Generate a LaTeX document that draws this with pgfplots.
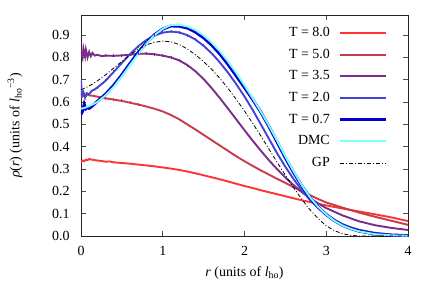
\documentclass[border=0pt]{standalone}
\usepackage{fontspec}
\setmainfont{Liberation Serif}
\usepackage{pgfplots}
\pgfplotsset{compat=1.18}
\definecolor{c8}{HTML}{FF3333}
\definecolor{c5}{HTML}{C63C4A}
\definecolor{c35}{HTML}{7B2D8B}
\definecolor{c2}{HTML}{4444D0}
\definecolor{c07}{HTML}{0000C8}
\definecolor{cdmc}{HTML}{80FFFF}
\begin{document}
\begin{tikzpicture}
\begin{axis}[
 scale only axis, width=327bp, height=221bp,
 at={(0,0)}, anchor=south west,
 xmin=0, xmax=4, ymin=0, ymax=0.99,
 xtick={0,1,2,3,4}, ytick={0,0.1,0.2,0.3,0.4,0.5,0.6,0.7,0.8,0.9},
 yticklabel style={/pgf/number format/fixed, /pgf/number format/fixed zerofill, /pgf/number format/precision=1, xshift=-8bp},
 xticklabel style={/pgf/number format/fixed, yshift=-7bp},
 /pgf/number format/assume math mode=true,
 tick align=inside, major tick length=5bp,
 axis line style={line width=1pt, black!85},
 tick style={line width=0.8pt, black!70},
 font=\fontsize{14}{16}\selectfont,
 xlabel={\textit{r} (units of \textit{l}\textsubscript{ho})},
 ylabel={\textit{ρ}(\textit{r}) (units of \textit{l}\textsubscript{ho}\textsuperscript{−3})},
 x label style={at={(axis description cs:0.5,0)}, yshift=-37bp, anchor=center},
 y label style={at={(axis description cs:0,0.5)}, rotate=0, yshift=66bp, anchor=center},
 legend plot pos=right,
 legend cell align=right,
 legend image code/.code={\draw[#1] (0bp,0bp) -- (46bp,0bp);},
 legend style={draw=none, fill=none, inner sep=0pt, at={(axis description cs:1,1)}, anchor=north east, xshift=-20bp, yshift=-11.3bp, row sep=8.67bp, /tikz/column sep=9bp, nodes={inner sep=0pt, text height=10bp, text depth=3bp}},
]
\addplot[c8, line width=1.9bp] coordinates {
(0.00,0.330)(0.02,0.338)(0.04,0.335)(0.06,0.342)(0.08,0.340)(0.10,0.345)(0.12,0.343)(0.15,0.341)(0.20,0.338)(0.25,0.336)(0.30,0.333)(0.35,0.334)(0.40,0.330)(0.50,0.327)(0.60,0.324)(0.70,0.320)(0.80,0.316)(0.90,0.312)(1.00,0.307)(1.10,0.302)(1.20,0.296)(1.30,0.289)(1.40,0.281)(1.50,0.272)(1.60,0.263)(1.70,0.254)(1.80,0.244)(1.90,0.234)(2.00,0.224)(2.10,0.215)(2.20,0.205)(2.30,0.196)(2.40,0.187)(2.50,0.178)(2.60,0.169)(2.70,0.160)(2.80,0.152)(2.90,0.144)(3.00,0.137)(3.20,0.123)(3.40,0.110)(3.60,0.097)(3.80,0.083)(4.00,0.067)};
\addlegendentry{T = 8.0}
\addplot[c5, line width=1.9bp] coordinates {
(0.00,0.640)(0.02,0.625)(0.04,0.632)(0.06,0.628)(0.08,0.634)(0.10,0.630)(0.15,0.628)(0.20,0.624)(0.30,0.617)(0.40,0.611)(0.50,0.605)(0.60,0.597)(0.70,0.589)(0.80,0.580)(0.90,0.570)(1.00,0.558)(1.10,0.542)(1.20,0.523)(1.30,0.500)(1.40,0.477)(1.50,0.453)(1.60,0.429)(1.70,0.405)(1.80,0.381)(1.90,0.357)(2.00,0.335)(2.10,0.314)(2.20,0.294)(2.30,0.275)(2.40,0.256)(2.50,0.238)(2.60,0.219)(2.70,0.200)(2.80,0.183)(2.90,0.166)(3.00,0.150)(3.20,0.127)(3.40,0.105)(3.60,0.086)(3.80,0.068)(4.00,0.050)};
\addlegendentry{T = 5.0}
\addplot[c35, line width=1.9bp] coordinates {
(0.00,0.830)(0.02,0.800)(0.03,0.840)(0.05,0.805)(0.06,0.835)(0.08,0.800)(0.10,0.825)(0.12,0.805)(0.14,0.820)(0.17,0.808)(0.20,0.812)(0.25,0.806)(0.30,0.808)(0.40,0.807)(0.50,0.809)(0.60,0.812)(0.70,0.816)(0.80,0.817)(0.90,0.814)(1.00,0.808)(1.10,0.800)(1.20,0.787)(1.30,0.766)(1.40,0.738)(1.50,0.703)(1.60,0.662)(1.70,0.617)(1.80,0.570)(1.90,0.522)(2.00,0.474)(2.10,0.427)(2.20,0.382)(2.30,0.339)(2.40,0.299)(2.50,0.262)(2.60,0.228)(2.70,0.197)(2.80,0.170)(2.90,0.146)(3.00,0.125)(3.20,0.092)(3.40,0.066)(3.60,0.048)(3.80,0.036)(4.00,0.027)};
\addlegendentry{T = 3.5}
\addplot[c2, line width=1.9bp] coordinates {
(0.00,0.700)(0.01,0.630)(0.03,0.645)(0.05,0.620)(0.07,0.640)(0.10,0.635)(0.13,0.650)(0.16,0.655)(0.20,0.665)(0.30,0.695)(0.40,0.735)(0.50,0.775)(0.60,0.815)(0.70,0.850)(0.80,0.878)(0.90,0.898)(1.00,0.911)(1.10,0.916)(1.20,0.912)(1.30,0.900)(1.40,0.880)(1.50,0.852)(1.60,0.818)(1.70,0.777)(1.80,0.731)(1.90,0.680)(2.00,0.625)(2.10,0.565)(2.20,0.500)(2.30,0.435)(2.40,0.370)(2.50,0.310)(2.60,0.255)(2.70,0.205)(2.80,0.162)(2.90,0.126)(3.00,0.096)(3.10,0.072)(3.20,0.053)(3.30,0.039)(3.40,0.028)(3.60,0.014)(3.80,0.007)(4.00,0.004)};
\addlegendentry{T = 2.0}
\addplot[c07, line width=3bp] coordinates {
(0.00,0.545)(0.02,0.560)(0.04,0.590)(0.06,0.570)(0.08,0.575)(0.10,0.572)(0.13,0.580)(0.16,0.590)(0.20,0.603)(0.30,0.635)(0.40,0.675)(0.50,0.722)(0.60,0.773)(0.70,0.822)(0.80,0.866)(0.90,0.902)(1.00,0.927)(1.10,0.941)(1.20,0.940)(1.30,0.932)(1.40,0.914)(1.50,0.888)(1.60,0.855)(1.70,0.815)(1.80,0.768)(1.90,0.717)(2.00,0.665)(2.10,0.612)(2.20,0.555)(2.30,0.490)(2.40,0.420)(2.50,0.350)(2.60,0.285)(2.70,0.225)(2.80,0.172)(2.90,0.130)(3.00,0.096)(3.10,0.069)(3.20,0.048)(3.30,0.033)(3.40,0.022)(3.60,0.009)(3.80,0.003)(4.00,0.001)};
\addlegendentry{T = 0.7}
\addplot[cdmc, line width=1.9bp] coordinates {
(0.00,0.570)(0.05,0.575)(0.10,0.582)(0.20,0.600)(0.30,0.630)(0.40,0.668)(0.50,0.715)(0.60,0.766)(0.70,0.815)(0.80,0.861)(0.90,0.900)(1.00,0.928)(1.10,0.945)(1.20,0.946)(1.30,0.939)(1.40,0.923)(1.50,0.898)(1.60,0.866)(1.70,0.827)(1.80,0.781)(1.90,0.730)(2.00,0.675)(2.10,0.617)(2.20,0.557)(2.30,0.494)(2.40,0.426)(2.50,0.356)(2.60,0.290)(2.70,0.228)(2.80,0.174)(2.90,0.131)(3.00,0.096)(3.10,0.068)(3.20,0.047)(3.30,0.032)(3.40,0.021)(3.60,0.008)(3.80,0.003)(4.00,0.001)};
\addlegendentry{DMC}
\addplot[black, line width=0.8bp, dash pattern=on 4bp off 2bp on 1bp off 2bp] coordinates {
(0.00,0.655)(0.10,0.672)(0.20,0.695)(0.30,0.722)(0.40,0.752)(0.50,0.782)(0.60,0.811)(0.70,0.836)(0.80,0.856)(0.90,0.868)(1.00,0.873)(1.10,0.870)(1.20,0.858)(1.30,0.838)(1.40,0.812)(1.50,0.781)(1.60,0.746)(1.70,0.706)(1.80,0.661)(1.90,0.612)(2.00,0.560)(2.10,0.505)(2.20,0.448)(2.30,0.389)(2.40,0.330)(2.50,0.272)(2.60,0.217)(2.70,0.165)(2.80,0.118)(2.90,0.078)(3.00,0.046)(3.10,0.024)(3.20,0.010)(3.30,0.003)(3.40,0.000)(4.00,0.000)};
\addlegendentry{GP}
% small error-bar ticks along the finite-temperature curves
\addplot[forget plot, c35, only marks, mark=|, mark size=1.5bp, mark options={line width=0.8bp}] coordinates {
(0.30,0.808)(0.40,0.807)(0.50,0.809)(0.60,0.812)(0.70,0.816)(0.80,0.817)(0.90,0.814)(1.00,0.808)(1.10,0.800)(1.20,0.787)(1.30,0.766)};
\addplot[forget plot, c2, only marks, mark=|, mark size=1.5bp, mark options={line width=0.8bp}] coordinates {
(0.20,0.665)(0.30,0.695)(0.40,0.735)(0.50,0.775)(0.60,0.815)(0.70,0.850)(0.80,0.878)(0.90,0.898)(1.00,0.911)(1.10,0.916)(1.20,0.912)(1.30,0.900)(1.40,0.880)(1.50,0.852)};
\addplot[forget plot, c5, only marks, mark=|, mark size=1.5bp, mark options={line width=0.8bp}] coordinates {
(0.30,0.617)(0.40,0.611)(0.50,0.605)(0.60,0.597)(0.70,0.589)};
\end{axis}
\pgfresetboundingbox
\useasboundingbox (-81bp,-69bp) rectangle (355bp,236bp);
\end{tikzpicture}
\end{document}
